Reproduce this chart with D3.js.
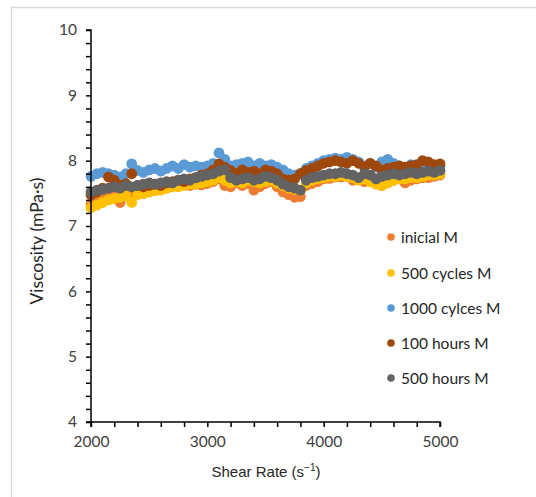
<!DOCTYPE html>
<html>
<head>
<meta charset="utf-8">
<script src="https://cdn.jsdelivr.net/npm/d3@7"></script>
<style>
  html, body { margin: 0; padding: 0; background: #fff; }
  svg { display: block; }
</style>
</head>
<body>
<div id="chart"></div>
<script>
// ---- data ----
const shearRates = [2000,2050,2100,2150,2200,2250,2300,2350,2400,2450,2500,2550,2600,2650,2700,2750,2800,2850,2900,2950,3000,3050,3100,3150,3200,3250,3300,3350,3400,3450,3500,3550,3600,3650,3700,3750,3800,3850,3900,3950,4000,4050,4100,4150,4200,4250,4300,4350,4400,4450,4500,4550,4600,4650,4700,4750,4800,4850,4900,4950,5000];

const inicialM = [7.33,7.38,7.42,7.45,7.48,7.36,7.50,7.48,7.52,7.50,7.55,7.55,7.57,7.58,7.60,7.62,7.63,7.62,7.64,7.63,7.65,7.68,7.72,7.62,7.60,7.66,7.62,7.65,7.55,7.60,7.65,7.68,7.60,7.52,7.48,7.44,7.45,7.62,7.65,7.68,7.72,7.73,7.75,7.75,7.76,7.70,7.72,7.68,7.70,7.72,7.62,7.66,7.70,7.72,7.66,7.70,7.72,7.74,7.74,7.76,7.78];

const cycles500M = [7.28,7.32,7.36,7.40,7.42,7.44,7.46,7.36,7.48,7.50,7.52,7.54,7.55,7.58,7.60,7.60,7.62,7.64,7.64,7.66,7.68,7.70,7.74,7.70,7.66,7.68,7.66,7.70,7.68,7.66,7.68,7.70,7.66,7.62,7.58,7.56,7.55,7.66,7.70,7.72,7.74,7.76,7.76,7.78,7.76,7.74,7.70,7.72,7.68,7.64,7.62,7.66,7.70,7.72,7.72,7.74,7.74,7.76,7.78,7.78,7.80];

const cycles1000M = [7.76,7.80,7.82,7.80,7.78,7.75,7.80,7.95,7.85,7.82,7.86,7.88,7.84,7.88,7.92,7.88,7.94,7.90,7.92,7.90,7.92,7.96,8.12,8.02,7.92,7.94,7.96,7.98,7.92,7.96,7.92,7.94,7.90,7.86,7.80,7.78,7.80,7.88,7.92,7.96,8.00,8.02,8.04,8.02,8.05,8.02,7.98,7.92,7.96,7.90,7.98,8.02,7.96,7.92,7.90,7.94,7.92,7.95,7.94,7.92,7.92];

const hours100M = [7.48,7.52,7.58,7.75,7.70,7.62,7.65,7.80,7.62,7.60,7.62,7.64,7.62,7.66,7.68,7.70,7.68,7.72,7.74,7.78,7.80,7.86,7.95,7.90,7.85,7.80,7.86,7.82,7.84,7.80,7.86,7.84,7.80,7.72,7.70,7.72,7.80,7.85,7.88,7.92,7.96,7.98,8.00,7.98,7.96,8.00,7.96,7.90,7.96,7.92,7.86,7.88,7.90,7.92,7.90,7.92,7.94,8.00,7.98,7.94,7.95];

const hours500M = [7.52,7.55,7.56,7.58,7.60,7.58,7.62,7.60,7.62,7.64,7.66,7.64,7.66,7.68,7.66,7.70,7.72,7.70,7.74,7.76,7.78,7.80,7.84,7.86,7.74,7.70,7.72,7.74,7.70,7.72,7.76,7.74,7.70,7.64,7.60,7.58,7.55,7.70,7.74,7.76,7.78,7.80,7.80,7.82,7.80,7.78,7.74,7.80,7.78,7.72,7.76,7.78,7.80,7.78,7.80,7.82,7.80,7.82,7.84,7.82,7.85];

const seriesNames = ["inicial M", "500 cycles M", "1000 cylces M", "100 hours M", "500 hours M"];
const seriesValues = [inicialM, cycles500M, cycles1000M, hours100M, hours500M];
const seriesColors = ["#ED7D31", "#FFC000", "#5B9BD5", "#9E480E", "#636363"];

const xTickLabels = [2000, 3000, 4000, 5000];
const yTickLabels = [4, 5, 6, 7, 8, 9, 10];

// ---- chart ----
const W = 536, H = 497;
const svg = d3.select("#chart").append("svg").attr("width", W).attr("height", H);

svg.append("rect").attr("x", 11.5).attr("y", 7.5).attr("width", 700).attr("height", 700)
  .attr("fill", "#fff").attr("stroke", "#d9d9d9").attr("stroke-width", 1.5);

const x = d3.scaleLinear().domain([2000, 5000]).range([91, 440]);
const y = d3.scaleLinear().domain([4, 10]).range([422, 30]);

const tickFont = "Lato, 'Open Sans', sans-serif";

// points
seriesValues.forEach((vals, si) => {
  svg.append("g").selectAll("circle").data(vals).join("circle")
    .attr("cx", (d, i) => x(shearRates[i]))
    .attr("cy", d => y(d))
    .attr("r", 5.4)
    .attr("fill", seriesColors[si]);
});

// y axis
const yAxis = d3.axisLeft(y).tickValues(d3.range(4, 10.001, 0.2)).tickSize(5)
  .tickFormat(d => yTickLabels.includes(Math.round(d * 10) / 10) ? d3.format("d")(Math.round(d)) : "");
const gy = svg.append("g").attr("transform", "translate(91,0)").call(yAxis);
gy.select(".domain").attr("stroke", "#000").attr("stroke-width", 1.5).attr("d", "M-5,30H0V422H-5");
gy.selectAll(".tick line").attr("stroke", "#000").attr("stroke-width", 1.5);
gy.selectAll(".tick text").attr("x", -14).attr("fill", "#404040")
  .style("font-family", tickFont).style("font-size", "15.5px");

// x axis
const xAxis = d3.axisBottom(x).tickValues(d3.range(2000, 5001, 200)).tickSize(5)
  .tickFormat(d => xTickLabels.includes(d) ? String(d) : "");
const gx = svg.append("g").attr("transform", "translate(0,422)").call(xAxis);
gx.select(".domain").attr("stroke", "#000").attr("stroke-width", 1.5).attr("d", "M91,5V0H440V5");
gx.selectAll(".tick line").attr("stroke", "#000").attr("stroke-width", 1.5);
gx.selectAll(".tick text").attr("y", 14).attr("fill", "#404040")
  .style("font-family", tickFont).style("font-size", "15.5px");

// axis titles
const xt = svg.append("text").attr("x", 266).attr("y", 477).attr("text-anchor", "middle")
  .attr("fill", "#262626").style("font-family", "'Liberation Sans', Arial, sans-serif").style("font-size", "15px");
xt.append("tspan").text("Shear Rate (s");
xt.append("tspan").attr("dy", -6).style("font-size", "10px").text("−1");
xt.append("tspan").attr("dy", 6).text(")");

svg.append("text").attr("transform", "translate(43,241) rotate(-90)").attr("text-anchor", "middle")
  .attr("fill", "#262626").style("font-family", tickFont).style("font-size", "17.5px")
  .text("Viscosity (mPa·s)");

// legend
const legendY = [237, 273, 308, 343, 378];
const lg = svg.append("g");
seriesNames.forEach((name, i) => {
  lg.append("circle").attr("cx", 391).attr("cy", legendY[i]).attr("r", 3.8).attr("fill", seriesColors[i]);
  lg.append("text").attr("x", 401).attr("y", legendY[i] + 5.5).attr("fill", "#262626")
    .style("font-family", tickFont).style("font-size", "15.5px").text(name);
});
</script>
</body>
</html>
